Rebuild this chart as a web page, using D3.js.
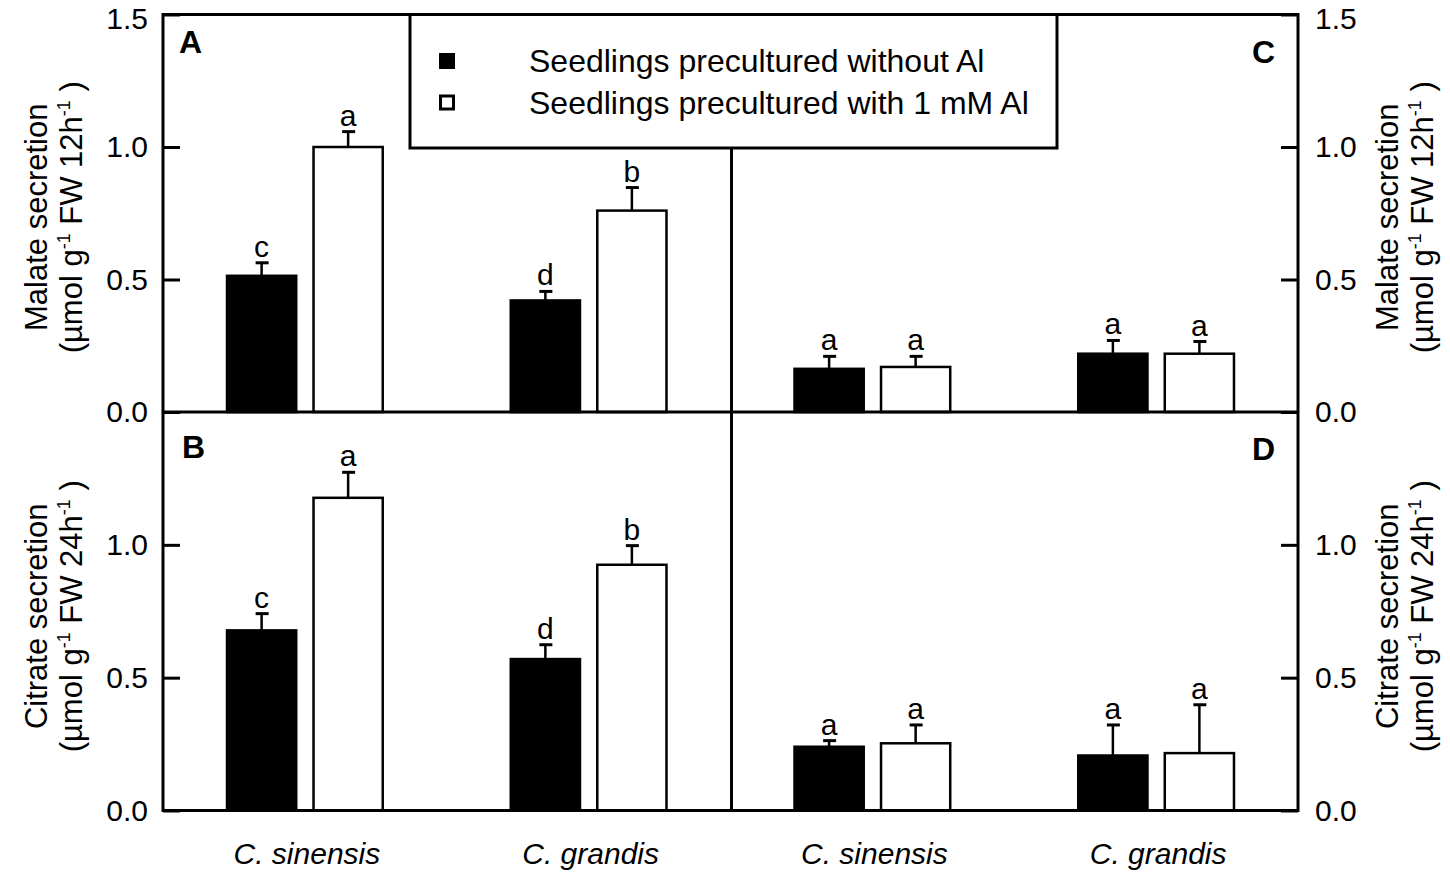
<!DOCTYPE html>
<html>
<head>
<meta charset="utf-8">
<script src="https://cdn.jsdelivr.net/npm/d3@7"></script>
<style>
  body { margin: 0; background: #fff; }
  text { font-family: "Liberation Sans", Arial, sans-serif; fill: #000; }
</style>
</head>
<body>
<div id="chart"></div>
<script>
// species along the x axis (left half: panels A/B, right half: panels C/D)
const species = ["C. sinensis", "C. grandis", "C. sinensis", "C. grandis"];
const treatments = ["without", "with"];
const legendLabels = ["Seedlings precultured without Al", "Seedlings precultured with 1 mM Al"];

// malate secretion (top panels A, C)
const malateWithout = [0.514, 0.421, 0.163, 0.22];
const malateWithoutSE = [0.049, 0.034, 0.047, 0.05];
const malateWith = [1.0, 0.76, 0.17, 0.22];
const malateWithSE = [0.058, 0.087, 0.04, 0.046];
const malateLettersWithout = ["c", "d", "a", "a"];
const malateLettersWith = ["a", "b", "a", "a"];

// citrate secretion (bottom panels B, D)
const citrateWithout = [0.678, 0.57, 0.24, 0.207];
const citrateWithoutSE = [0.063, 0.054, 0.023, 0.115];
const citrateWith = [1.177, 0.925, 0.253, 0.216];
const citrateWithSE = [0.096, 0.072, 0.069, 0.182];
const citrateLettersWithout = ["c", "d", "a", "a"];
const citrateLettersWith = ["a", "b", "a", "a"];

const yTicksTop = [0, 0.5, 1.0, 1.5];
const yTicksBottom = [0, 0.5, 1.0];

const width = 1450, height = 889;
const pLeft = 163, pRight = 1298, pTop = 14.5, pMid = 412, pBottom = 810.5;

const svg = d3.select("#chart").append("svg")
  .attr("width", width)
  .attr("height", height);

const x0 = d3.scaleBand().domain(d3.range(species.length)).range([pLeft, pRight]);
const x1 = d3.scaleBand().domain(treatments).range([0, x0.bandwidth()])
  .paddingInner(0.2).paddingOuter(0.74);

const yTop = d3.scaleLinear().domain([0, 1.5]).range([pMid, pTop]);
const yBot = d3.scaleLinear().domain([0, 1.5]).range([pBottom, pMid]);

function rows(vWithout, eWithout, lWithout, vWith, eWith, lWith) {
  const out = [];
  species.forEach((s, i) => {
    out.push({ i, t: "without", v: vWithout[i], e: eWithout[i], l: lWithout[i] });
    out.push({ i, t: "with", v: vWith[i], e: eWith[i], l: lWith[i] });
  });
  return out;
}

function drawPanel(y, data) {
  const g = svg.append("g");
  const bx = d => x0(d.i) + x1(d.t);
  const cx = d => bx(d) + x1.bandwidth() / 2;

  // error bars (upper only)
  g.selectAll("line.err").data(data).join("line")
    .attr("class", "err")
    .attr("x1", cx).attr("x2", cx)
    .attr("y1", d => y(d.v)).attr("y2", d => y(d.v + d.e))
    .attr("stroke", "#000").attr("stroke-width", 2.5);
  g.selectAll("line.cap").data(data).join("line")
    .attr("class", "cap")
    .attr("x1", d => cx(d) - 6).attr("x2", d => cx(d) + 7)
    .attr("y1", d => y(d.v + d.e)).attr("y2", d => y(d.v + d.e))
    .attr("stroke", "#000").attr("stroke-width", 3);

  g.selectAll("rect.bar").data(data).join("rect")
    .attr("class", "bar")
    .attr("x", bx)
    .attr("y", d => y(d.v))
    .attr("width", x1.bandwidth())
    .attr("height", d => y(0) - y(d.v))
    .attr("fill", d => d.t === "without" ? "#000" : "#fff")
    .attr("stroke", "#000")
    .attr("stroke-width", 2.5);

  g.selectAll("text.sig").data(data).join("text")
    .attr("class", "sig")
    .attr("x", cx)
    .attr("y", d => y(d.v + d.e) - 6)
    .attr("text-anchor", "middle")
    .style("font-size", "30px")
    .text(d => d.l);
}

drawPanel(yTop, rows(malateWithout, malateWithoutSE, malateLettersWithout, malateWith, malateWithSE, malateLettersWith));
drawPanel(yBot, rows(citrateWithout, citrateWithoutSE, citrateLettersWithout, citrateWith, citrateWithSE, citrateLettersWith));

// axes
function styleAxis(g) {
  g.select(".domain").remove();
  g.selectAll(".tick line").attr("stroke", "#000").attr("stroke-width", 3);
  g.selectAll(".tick text").style("font-size", "30px").attr("fill", "#000")
    .attr("dy", d => d === 1.5 ? "0.45em" : "0.32em");
}
const fmt = d3.format(".1f");
svg.append("g").attr("transform", `translate(${pLeft},0)`)
  .call(d3.axisLeft(yTop).tickValues(yTicksTop).tickSize(-17).tickPadding(15).tickFormat(fmt)).call(styleAxis);
svg.append("g").attr("transform", `translate(${pLeft},0)`)
  .call(d3.axisLeft(yBot).tickValues(yTicksBottom).tickSize(-17).tickPadding(15).tickFormat(fmt)).call(styleAxis);
svg.append("g").attr("transform", `translate(${pRight},0)`)
  .call(d3.axisRight(yTop).tickValues(yTicksTop).tickSize(-17).tickPadding(17).tickFormat(fmt)).call(styleAxis);
svg.append("g").attr("transform", `translate(${pRight},0)`)
  .call(d3.axisRight(yBot).tickValues(yTicksBottom).tickSize(-17).tickPadding(17).tickFormat(fmt)).call(styleAxis);

// frame and dividers
svg.append("rect")
  .attr("x", pLeft).attr("y", pTop)
  .attr("width", pRight - pLeft).attr("height", pBottom - pTop)
  .attr("fill", "none").attr("stroke", "#000").attr("stroke-width", 3);
svg.append("line")
  .attr("x1", pLeft).attr("x2", pRight).attr("y1", pMid).attr("y2", pMid)
  .attr("stroke", "#000").attr("stroke-width", 3);
const midX = (pLeft + pRight) / 2 + 1;
svg.append("line")
  .attr("x1", midX).attr("x2", midX).attr("y1", pTop).attr("y2", pBottom)
  .attr("stroke", "#000").attr("stroke-width", 3);

// x labels
svg.selectAll("text.species").data(species).join("text")
  .attr("class", "species")
  .attr("x", (d, i) => x0(i) + x0.bandwidth() / 2 + 2)
  .attr("y", 864)
  .attr("text-anchor", "middle")
  .style("font-size", "30px")
  .style("font-style", "italic")
  .text(d => d);

// panel letters
const panelLetters = [
  { t: "A", x: 179, y: 53, a: "start" },
  { t: "B", x: 182, y: 458, a: "start" },
  { t: "C", x: 1275, y: 63, a: "end" },
  { t: "D", x: 1275, y: 460, a: "end" }
];
svg.selectAll("text.panel").data(panelLetters).join("text")
  .attr("class", "panel")
  .attr("x", d => d.x).attr("y", d => d.y)
  .attr("text-anchor", d => d.a)
  .style("font-size", "32px").style("font-weight", "bold")
  .text(d => d.t);

// y axis titles
function yTitle(x, yc, name, hours) {
  const g = svg.append("g").attr("transform", `translate(${x},${yc}) rotate(-90)`);
  g.append("text").attr("text-anchor", "middle").attr("y", 0)
    .style("font-size", "31px").text(name);
  const t = g.append("text").attr("text-anchor", "middle").attr("y", 35)
    .style("font-size", "31px");
  t.append("tspan").text("(µmol g");
  t.append("tspan").attr("dy", -12).style("font-size", "18px").text("-1");
  t.append("tspan").attr("dy", 12).text(" FW " + hours + "h");
  t.append("tspan").attr("dy", -12).style("font-size", "18px").text("-1");
  t.append("tspan").attr("dy", 12).text(" )");
}
const topC = (pTop + pMid) / 2 + 4, botC = (pMid + pBottom) / 2 + 5;
yTitle(47, topC, "Malate secretion", "12");
yTitle(47, botC, "Citrate secretion", "24");
yTitle(1398, topC, "Malate secretion", "12");
yTitle(1398, botC, "Citrate secretion", "24");

// legend
const lg = svg.append("g");
lg.append("rect")
  .attr("x", 410).attr("y", pTop)
  .attr("width", 647).attr("height", 148 - pTop)
  .attr("fill", "#fff").attr("stroke", "#000").attr("stroke-width", 3);
const legendY = d3.scalePoint().domain(treatments).range([61, 102.5]);
lg.selectAll("rect.sym").data(treatments).join("rect")
  .attr("class", "sym")
  .attr("x", d => d === "without" ? 439 : 440.5)
  .attr("y", d => legendY(d) - (d === "without" ? 8 : 6.5))
  .attr("width", d => d === "without" ? 16 : 13)
  .attr("height", d => d === "without" ? 16 : 13)
  .attr("fill", d => d === "without" ? "#000" : "#fff")
  .attr("stroke", d => d === "without" ? "none" : "#000")
  .attr("stroke-width", 3);
lg.selectAll("text.leg").data(treatments).join("text")
  .attr("class", "leg")
  .attr("x", 529).attr("y", d => legendY(d) + 11)
  .style("font-size", "32px")
  .text((d, i) => legendLabels[i]);
</script>
</body>
</html>
